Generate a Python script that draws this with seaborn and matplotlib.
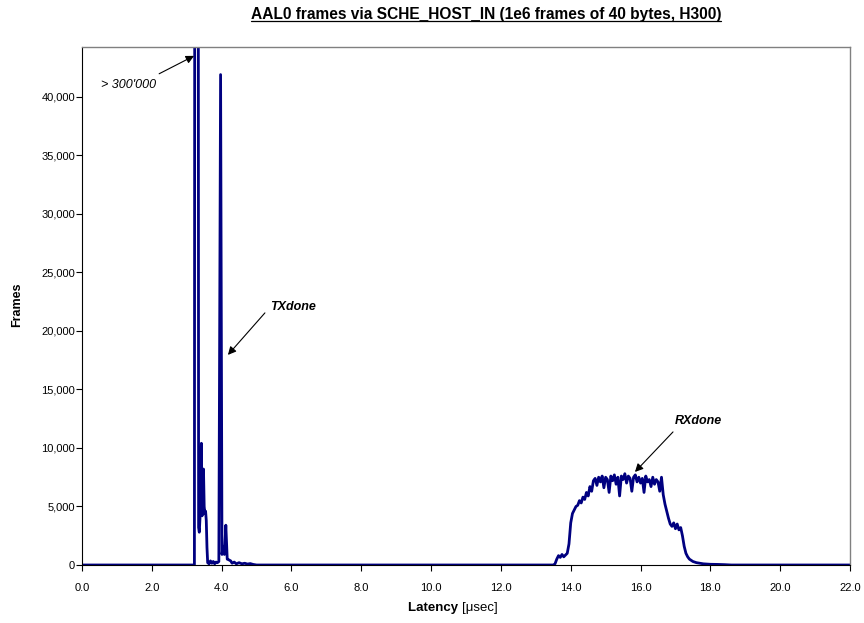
import matplotlib
matplotlib.use("Agg")
import matplotlib.pyplot as plt
from matplotlib.lines import Line2D
import seaborn as sns
import pandas as pd

# latency in usec, frame counts
latency = [0.0, 3.20, 3.22, 3.28, 3.34, 3.36, 3.38, 3.40, 3.42, 3.44, 3.46, 3.48,
           3.50, 3.52, 3.54, 3.56, 3.58, 3.60, 3.64, 3.68, 3.72, 3.76, 3.80, 3.84,
           3.88, 3.92, 3.97, 4.01, 4.04, 4.08, 4.12, 4.16, 4.20, 4.26, 4.30, 4.36,
           4.42, 4.50, 4.58, 4.66, 4.74, 4.82, 4.90, 5.00,
           13.50, 13.55, 13.60, 13.65, 13.70, 13.75, 13.80, 13.85, 13.90, 13.95,
           14.00, 14.05, 14.10, 14.15, 14.20, 14.25, 14.30, 14.35, 14.40, 14.45,
           14.50, 14.55, 14.60, 14.65, 14.70, 14.75, 14.80, 14.85, 14.90, 14.95,
           15.00, 15.05, 15.10, 15.15, 15.20, 15.25, 15.30, 15.35, 15.40, 15.45,
           15.50, 15.55, 15.60, 15.65, 15.70, 15.75, 15.80, 15.85, 15.90, 15.95,
           16.00, 16.05, 16.10, 16.15, 16.20, 16.25, 16.30, 16.35, 16.40, 16.45,
           16.50, 16.55, 16.60, 16.65, 16.70, 16.75, 16.80, 16.85, 16.90, 16.95,
           17.00, 17.05, 17.10, 17.15, 17.20, 17.25, 17.30, 17.35, 17.40, 17.45,
           17.50, 17.60, 17.70, 17.80, 17.90, 18.00, 18.20, 18.40, 18.60, 22.0]
frames = [0, 0, 0, 340000, 3200, 2800, 4000, 6000, 10400, 4200, 7000, 8200,
          5000, 4400, 4600, 3800, 1500, 200, 100, 350, 150, 300, 100, 250,
          200, 300, 41900, 900, 1600, 900, 3400, 500, 450, 350, 150, 250,
          100, 200, 100, 150, 80, 120, 50, 0,
          0, 100, 500, 800, 650, 900, 700, 850, 1000, 1800,
          3600, 4400, 4700, 5000, 5100, 5500, 5300, 5800, 5600, 6200,
          5900, 6700, 6300, 7200, 7400, 6800, 7500, 7100, 7600, 6600,
          7500, 7300, 6200, 7600, 7200, 7700, 6900, 7500, 5900, 7600,
          7300, 7800, 7000, 7600, 7400, 6300, 7500, 7700, 7100, 7500,
          7000, 7400, 6200, 7600, 7100, 7300, 6700, 7500, 6900, 7300,
          7100, 6300, 7500, 6000, 5200, 4600, 4000, 3500, 3300, 3600,
          3100, 3500, 3000, 3200, 2500, 1600, 1000, 700, 500, 400,
          300, 200, 150, 100, 80, 60, 50, 30, 0, 0]

x_ticks = [0, 2, 4, 6, 8, 10, 12, 14, 16, 18, 20, 22]
x_labels = ["0.0", "2.0", "4.0", "6.0", "8.0", "10.0", "12.0", "14.0", "16.0", "18.0", "20.0", "22.0"]
y_ticks = [0, 5000, 10000, 15000, 20000, 25000, 30000, 35000, 40000]
y_labels = ["0", "5,000", "10,000", "15,000", "20,000", "25,000", "30,000", "35,000", "40,000"]

sns.set_style("white")
plt.rcParams['font.family'] = ['Liberation Sans', 'DejaVu Sans']
plt.rcParams['text.color'] = 'black'
plt.rcParams['axes.labelcolor'] = 'black'

df = pd.DataFrame({"latency": latency, "frames": frames})

fig = plt.figure(figsize=(8.64, 6.23), dpi=100)
ax = fig.add_axes([82/864, 58/623, 768/864, 518.5/623])

sns.lineplot(data=df, x="latency", y="frames", ax=ax, color="#000080",
             linewidth=2.0, estimator=None, sort=False)

ax.set_xlim(0, 22)
ax.set_ylim(0, 44300)
ax.set_xticks(x_ticks)
ax.set_xticklabels(x_labels)
ax.set_yticks(y_ticks)
ax.set_yticklabels(y_labels)
ax.tick_params(axis="both", direction="out", length=4, width=0.8, labelsize=8,
               colors="black", bottom=True, left=True)
ax.tick_params(axis="x", pad=9)
ax.tick_params(axis="y", pad=1)
ax.set_xlabel("")
ax.set_ylabel("")

for s in ["left", "bottom"]:
    ax.spines[s].set_color("black")
    ax.spines[s].set_linewidth(0.8)
for s in ["top", "right"]:
    ax.spines[s].set_color("#808080")
    ax.spines[s].set_linewidth(1.0)

# annotations: arrows and labels separately
arrow = dict(arrowstyle="-|>", color="black", lw=0.8, mutation_scale=12,
             shrinkA=0, shrinkB=0)
ax.annotate("", xy=(3.21, 43500), xytext=(2.21, 41970), arrowprops=arrow)
ax.annotate("", xy=(4.18, 17950), xytext=(5.24, 21540), arrowprops=arrow)
ax.annotate("", xy=(15.84, 7950), xytext=(16.93, 11370), arrowprops=arrow)

ax.text(0.54, 41030, "> 300'000", fontsize=9, style="italic", va="center", ha="left")
ax.text(6.04, 22050, "TXdone", fontsize=9, style="italic", weight="bold",
        va="center", ha="center")
ax.text(17.67, 12310, "RXdone", fontsize=9, style="italic", weight="bold",
        va="center", ha="center")

title = fig.text(486/864, 1 - 14/623, "AAL0 frames via SCHE_HOST_IN (1e6 frames of 40 bytes, H300)",
                 ha="center", va="center", fontsize=11.2, weight="bold")
fig.text(17/864, 1 - 305/623, "Frames", rotation=90, ha="center", va="center",
         fontsize=9, weight="bold")
fig.text(462/864, 1 - 608/623, "Latency ", ha="right", va="center",
         fontsize=9.5, weight="bold")
fig.text(462/864, 1 - 608/623, "[\u03bcsec]", ha="left", va="center", fontsize=9.5)

# underline the title
fig.canvas.draw()
bb = title.get_window_extent()
inv = fig.transFigure.inverted()
(x0, y0), (x1, _) = inv.transform([(bb.x0, bb.y0 + 1), (bb.x1, bb.y0 + 1)])
fig.add_artist(Line2D([x0, x1], [y0, y0], transform=fig.transFigure,
                      color="black", lw=0.9))

fig.savefig("out.png", dpi=100)
